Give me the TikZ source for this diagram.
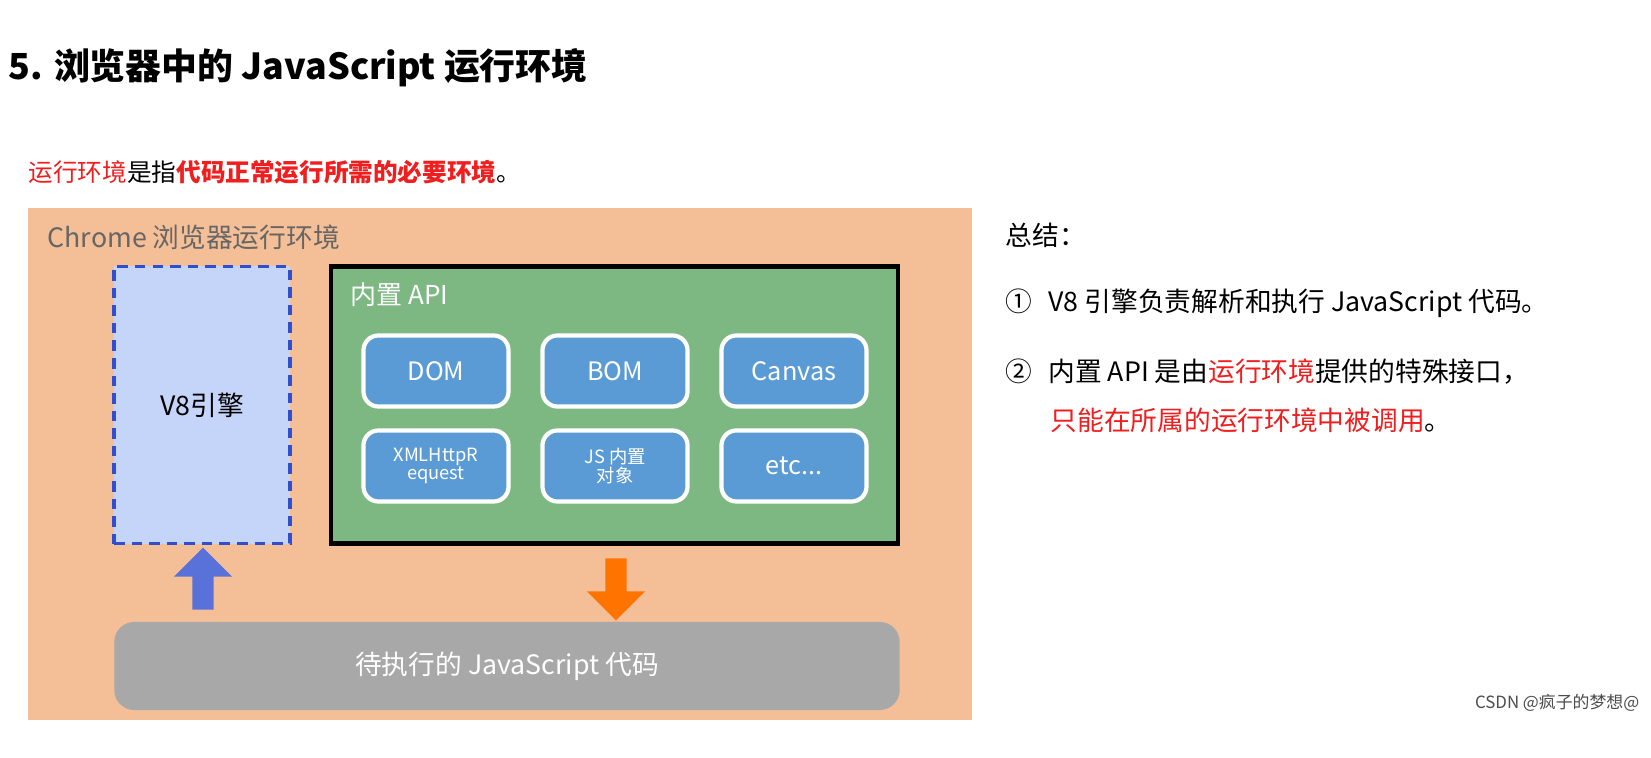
\documentclass[tikz,border=0pt]{standalone}
\usepackage{fontspec}
\setmainfont{Noto Sans CJK SC}
\usetikzlibrary{shapes, shapes.arrows, calc, positioning}
\definecolor{envorange}{HTML}{F4BE96}
\definecolor{v8fill}{HTML}{C5D5FA}
\definecolor{v8line}{HTML}{2F4FD0}
\definecolor{apigreen}{HTML}{7DB882}
\definecolor{apiblue}{HTML}{5B9BD5}
\definecolor{hlred}{HTML}{F01E1E}
\definecolor{codegray}{HTML}{A8A8A8}
\newcommand{\fs}[1]{\fontsize{#1}{#1}\selectfont}

\begin{document}
\begin{tikzpicture}[x=0.01cm, y=-0.01cm,
    apibox/.style={rectangle, draw=white, line width=1.2pt, fill=apiblue,
        rounded corners=1.5mm, minimum width=1.45cm, minimum height=0.71cm,
        text=white, font=\fs{7.2}, align=center},
    smallbox/.style={apibox, font=\fs{5.2}, inner sep=1pt},
    bigarrow/.style={single arrow, draw=none, minimum height=0.62cm,
        minimum width=0.58cm, single arrow head extend=0.1cm,
        single arrow head indent=0pt, inner sep=0.05cm, rotate=#1},
    note/.style={anchor=west, font=\fs{7.6}, inner sep=0pt}
]
\useasboundingbox (0,0) rectangle (1651,758);
\fill[white] (0,0) rectangle (1651,758);

% headings
\node (Title) [anchor=west, inner sep=0pt, font=\bfseries\fs{10.2}] at (8,68)
  {5. 浏览器中的 JavaScript 运行环境};
\node (Intro) [anchor=west, inner sep=0pt, font=\fs{7}] at (28,172)
  {\textcolor{hlred}{运行环境}是指\textcolor{hlred}{\bfseries 代码正常运行所需的必要环境}。};

% environment
\fill[envorange] (28,208) rectangle (972,720);
\node (Chrome) [anchor=west, inner sep=0pt, text=black!60, font=\fs{7.6}] at (47,237)
  {Chrome 浏览器运行环境};

\node (V8) [rectangle, draw=v8line, dash pattern=on 3pt off 2pt, line width=1pt, fill=v8fill,
  minimum width=1.76cm, minimum height=2.77cm, font=\fs{7.6}] at (202,405) {V8引擎};

\node (API) [rectangle, draw=black, line width=1.2pt, fill=apigreen,
  minimum width=5.67cm, minimum height=2.77cm] at (614.5,405) {};
\node (APIlabel) [anchor=west, inner sep=0pt, text=white, font=\fs{7.4}] at (350,295) {内置 API};

\node (DOM) [apibox] at (436,371) {DOM};
\node (BOM) [apibox] at (615,371) {BOM};
\node (Canvas) [apibox] at (794,371) {Canvas};
\node (XHR) [smallbox] at (436,466) {XMLHttpR\\equest};
\node (JSobj) [smallbox] at (615,466) {JS 内置\\对象};
\node (Etc) [apibox] at (794,466) {etc...};

\node (Code) [rectangle, rounded corners=2mm, fill=codegray, minimum width=7.85cm,
  minimum height=0.88cm, text=white, font=\fs{7.6}] at (507,666) {待执行的 JavaScript 代码};

\node (Up) [bigarrow=90, fill=v8line!80] at (203,584) {};
\node (Down) [bigarrow=-90, fill=orange!90!red] at (616,584) {};

% summary
\node (Sum) [note] at (1005,235) {总结：};
\node (Item1) [note] at (1005,303) {①\hspace{0.6em}V8 引擎负责解析和执行 JavaScript 代码。};
\node (Item2) [note] at (1005,372) {②\hspace{0.6em}内置 API 是由\textcolor{hlred}{运行环境}提供的特殊接口，};
\node (Item2b) [note, text=hlred] at (1050,420) {只能在所属的运行环境中被调用\textcolor{black}{。}};

\node (Mark) [anchor=east, inner sep=0pt, text=black!70, font=\fs{4.8}] at (1640,703)
  {CSDN @疯子的梦想@};
\end{tikzpicture}
\end{document}
